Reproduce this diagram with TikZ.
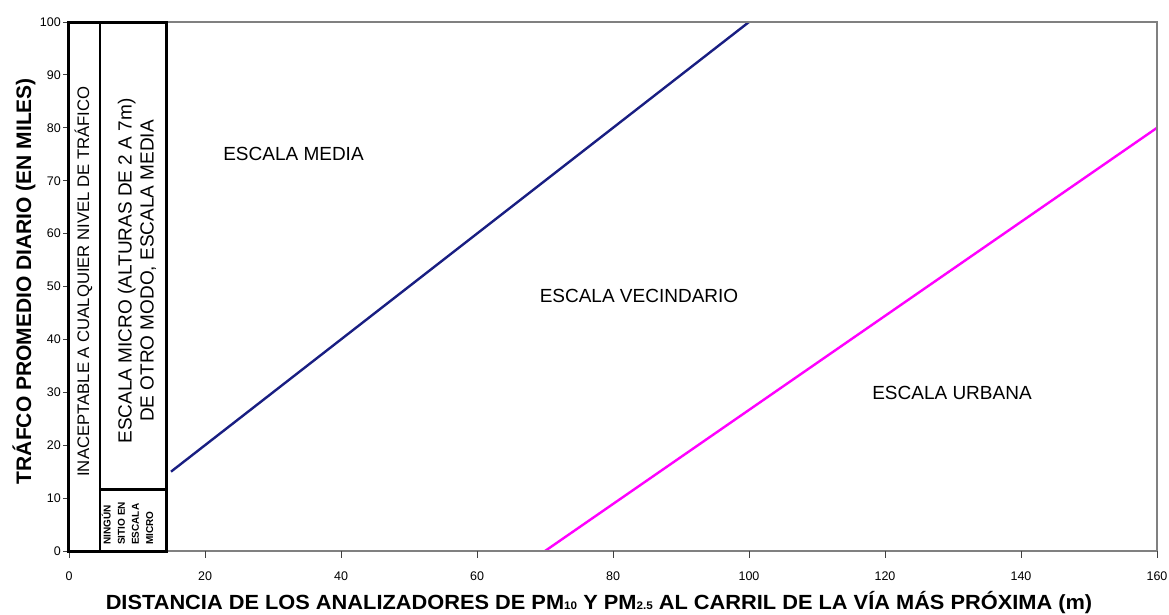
\documentclass[tikz,border=0pt]{standalone}
\usepackage{fontspec}
\setmainfont{Liberation Sans}
\definecolor{navyline}{RGB}{25,30,130}
\definecolor{magline}{RGB}{255,0,255}
\definecolor{framegray}{RGB}{128,128,128}
\newcommand\subdig[1]{{\fontsize{11}{11}\selectfont #1}}
\begin{document}
\begin{tikzpicture}[x=1pt,y=-1pt,
  region/.style={font=\fontsize{19}{22}\selectfont, inner sep=0pt},
  ticklbl/.style={font=\fontsize{12.5}{14}\selectfont, inner sep=0pt},
  axtitle/.style={font=\fontsize{20.5}{24}\selectfont\bfseries, inner sep=0pt},
  colbox/.style={draw=black, line width=3pt},
  coldiv/.style={draw=black, line width=2pt},
  frame/.style={draw=framegray, line width=2.8pt},
  tickmark/.style={draw=black!75, line width=1pt}]
\useasboundingbox (0,0) rectangle (1169,614);

% data lines
\coordinate (b0) at ({69+6.8*15},{551-5.29*15});
\coordinate (b1) at ({69+6.8*100},{551-5.29*100});
\coordinate (m0) at ({69+6.8*70},{551-5.29*0});
\coordinate (m1) at ({69+6.8*160},{551-5.29*80});
\draw[navyline, line width=2.4pt] (b0) -- (b1);
\draw[magline, line width=2.4pt] (m0) -- (m1);

% plot frame
\coordinate (fTL) at (69,22);
\coordinate (fBR) at (1157,551);
\draw[frame] (fTL) rectangle (fBR);

% ticks
\foreach \v in {0,10,...,100} {
  \coordinate (yt\v) at (69,{551-5.29*\v});
  \draw[tickmark] (yt\v) -- ++(-6,0);
  \node[ticklbl, anchor=east] (yl\v) at (61,{551-5.29*\v}) {\v};
}
\foreach \v in {0,20,...,160} {
  \coordinate (xt\v) at ({69+6.8*\v},551);
  \draw[tickmark] (xt\v) -- ++(0,7);
  \node[ticklbl] (xl\v) at ({69+6.8*\v},576) {\v};
}

% left boxes
\coordinate (bTL) at (68,22);
\coordinate (bBR) at (166,551);
\coordinate (dT) at (100,22);
\coordinate (dB) at (100,551);
\coordinate (hL) at (100,489);
\coordinate (hR) at (166,489);
\draw[coldiv] (dT) -- (dB);
\draw[colbox] (hL) -- (hR);
\draw[colbox] (bTL) rectangle (bBR);

\node[font=\fontsize{16.7}{20}\selectfont, inner sep=0pt, rotate=90] (col1) at (83.5,281.5)
  {INACEPTABLE A CUALQUIER NIVEL DE TRÁFICO};
\node[region, rotate=90, align=center] (col2) at (137,271)
  {ESCALA MICRO (ALTURAS DE 2 A 7m)\\DE OTRO MODO, ESCALA MEDIA};
\node[font=\fontsize{10}{14.2}\selectfont\bfseries, inner sep=0pt, rotate=90, align=left,
  anchor=north west] (col3) at (101.5,545)
  {NINGÚN\\SITIO EN\\ESCALA\\MICRO};

% region labels
\node[region] (media) at (293.5,154) {ESCALA MEDIA};
\node[region] (vecin) at (639,296) {ESCALA VECINDARIO};
\node[region] (urb) at (952,393) {ESCALA URBANA};

% axis titles
\node[axtitle, rotate=90, font=\fontsize{21}{24}\selectfont\bfseries] (ytitle) at (24,281)
  {TRÁFCO PROMEDIO DIARIO (EN MILES)};
\node[axtitle] (xtitle) at (599,603)
  {\scalebox{1.063}[1]{DISTANCIA DE LOS ANALIZADORES DE PM\subdig{10} Y PM\subdig{2.5} AL CARRIL DE LA VÍA MÁS PRÓXIMA (m)}};
\end{tikzpicture}
\end{document}
